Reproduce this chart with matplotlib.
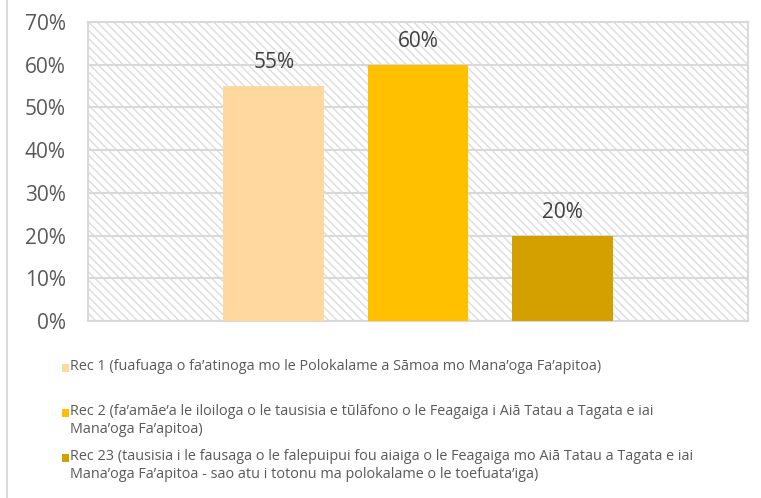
import matplotlib
matplotlib.use("Agg")
import matplotlib.pyplot as plt
from matplotlib.patches import Rectangle
from matplotlib.lines import Line2D

plt.rcParams['font.family'] = ['Open Sans', 'DejaVu Sans']
plt.rcParams['hatch.linewidth'] = 1.0
plt.rcParams['hatch.color'] = '#dcdcdc'

series_labels = [
    "Rec 1 (fuafuaga o fa\u2019atinoga mo le Polokalame a S\u0101moa mo Mana\u2019oga Fa\u2019apitoa)",
    "Rec 2 (fa\u2019am\u0101e\u2019a le iloiloga o le tausisia e t\u016bl\u0101fono o le Feagaiga i Ai\u0101 Tatau a Tagata e iai\nMana\u2019oga Fa\u2019apitoa)",
    "Rec 23 (tausisia i le fausaga o le falepuipui fou aiaiga o le Feagaiga mo Ai\u0101 Tatau a Tagata e iai\nMana\u2019oga Fa\u2019apitoa - sao atu i totonu ma polokalame o le toefuata\u2019iga)",
]
values = [0.55, 0.60, 0.20]
colors = ['#FFD8A0', '#FFC000', '#D4A000']
yticks = [0, 0.1, 0.2, 0.3, 0.4, 0.5, 0.6, 0.7]

fig = plt.figure(figsize=(7.61, 4.98), dpi=100)
ax = fig.add_axes([88 / 761, 1 - 321 / 498, 660 / 761, 299 / 498])

# hatched plot background
ax.add_patch(Rectangle((0, 0), 1, 1, transform=ax.transAxes, facecolor='white',
                       hatch='\\\\\\\\', edgecolor='#dcdcdc', linewidth=0, zorder=0))

positions = [-1, 0, 1]
for pos, v, c in zip(positions, values, colors):
    ax.bar(pos, v, width=0.70, color=c, zorder=3)
    ax.text(pos, v + 0.055, f"{round(v * 100)}%", ha='center', va='center',
            fontsize=15, color='#404040', zorder=4)

ax.set_xlim(-2.29, 2.29)
ax.set_ylim(0, 0.7)
ax.set_yticks(yticks)
ax.set_yticklabels([f"{round(t * 100)}%" for t in yticks], fontsize=15, color='#595959')
ax.set_xticks([])
ax.tick_params(axis='y', length=0, pad=16)
ax.yaxis.grid(True, color='#d9d9d9', linewidth=1.5, zorder=1)
ax.set_axisbelow(True)
for s in ax.spines.values():
    s.set_color('#d9d9d9')
    s.set_linewidth(1.5)

# chart border (left edge visible)
fig.add_artist(Line2D([7 / 761, 7 / 761], [0, 1], color='#d9d9d9', linewidth=1.5))

# legend drawn manually
entry_tops = [368, 413, 458]
for label, c, y in zip(series_labels, colors, entry_tops):
    fig.add_artist(Rectangle((62 / 761, 1 - (y + 4) / 498), 7 / 761, 8 / 498,
                             facecolor=c, edgecolor='none', transform=fig.transFigure))
    fig.text(70 / 761, 1 - (y - 9) / 498, label, ha='left', va='top',
             fontsize=10.4, color='#595959', linespacing=1.3)

fig.savefig("out.png", dpi=100)
